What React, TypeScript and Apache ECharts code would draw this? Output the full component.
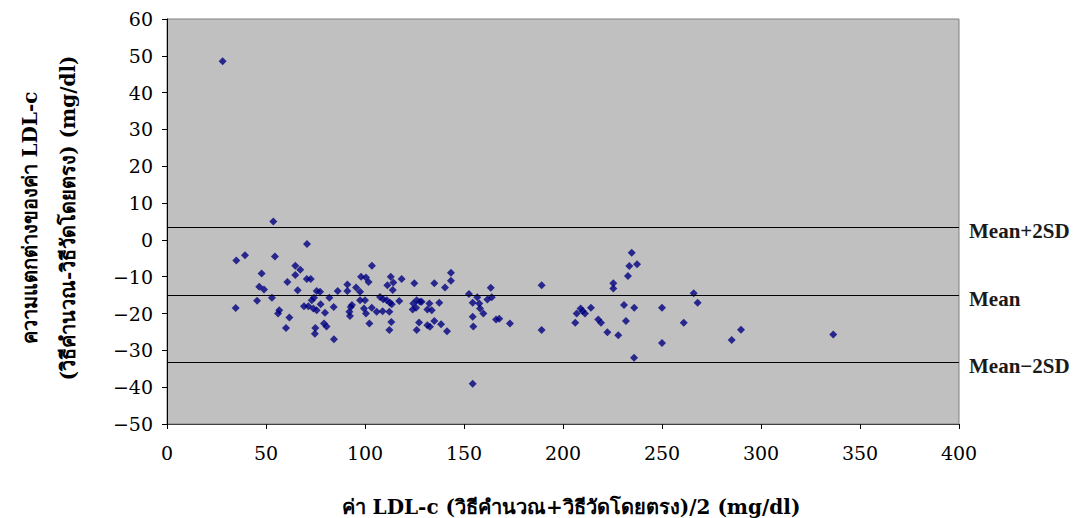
import React, { useEffect, useRef } from "react";
import * as echarts from "echarts";

// [average LDL-c (mg/dl), difference calc - direct (mg/dl)]
const blandAltmanPoints: number[][] = [
  [28.1, 48.5],
  [35.0, -5.6], [39.4, -4.2], [54.5, -4.5], [53.7, 5.0], [70.7, -1.1],
  [47.8, -9.1], [64.8, -7.0], [67.3, -8.1], [64.8, -9.5], [60.8, -11.4], [70.6, -10.6], [72.6, -10.6],
  [46.6, -12.7], [49.0, -13.5], [66.0, -13.7], [53.0, -15.7], [45.5, -16.5], [34.7, -18.5], [56.7, -19.1],
  [56.1, -20.0], [61.8, -21.1], [60.1, -23.9],
  [75.6, -13.9], [77.3, -14.1], [74.2, -15.7], [73.1, -16.4], [71.4, -18.0], [69.2, -18.0], [73.9, -18.6],
  [75.6, -19.1], [77.6, -17.5], [82.0, -15.7], [84.2, -18.2], [79.8, -19.8], [79.3, -22.7], [80.6, -23.5],
  [74.9, -23.9], [74.7, -25.5], [84.3, -27.0],
  [86.2, -13.9], [91.1, -12.1], [91.1, -13.9], [95.5, -12.9], [97.5, -14.1], [97.5, -16.4], [100.0, -16.4],
  [93.4, -17.7], [92.8, -18.2], [99.5, -18.6], [100.5, -20.0], [92.1, -19.5], [92.4, -20.7], [98.0, -10.0],
  [100.5, -10.2], [101.8, -11.4], [103.5, -7.0], [102.2, -22.7],
  [107.6, -15.5], [109.2, -16.1], [111.0, -16.4], [108.9, -19.4], [105.9, -19.5], [103.4, -18.4], [112.3, -19.5],
  [113.0, -10.0], [114.3, -11.6], [111.3, -12.3], [114.0, -13.6], [118.5, -10.6], [112.6, -17.1], [113.5, -17.5],
  [117.3, -16.6], [113.3, -22.3], [112.3, -24.5],
  [124.9, -11.8], [135.0, -11.8], [140.4, -12.9], [143.4, -8.9], [143.4, -11.1],
  [126.1, -16.4], [124.4, -17.3], [127.8, -16.8], [124.1, -18.9], [125.8, -18.4], [128.6, -16.8],
  [132.5, -17.3], [131.5, -18.9], [133.7, -19.1], [137.5, -17.1],
  [127.3, -22.4], [126.1, -24.5], [131.5, -23.2], [132.8, -23.6], [135.0, -22.0], [138.4, -22.9], [141.4, -24.8],
  [152.5, -14.7], [154.4, -17.1], [156.7, -15.6], [157.7, -17.3], [158.1, -18.6], [159.8, -20.0], [154.4, -20.9],
  [154.7, -23.5], [163.5, -13.0], [161.8, -16.2], [164.0, -15.6], [166.2, -21.6], [167.8, -21.4], [173.2, -22.7],
  [154.4, -39.1],
  [189.2, -12.3], [189.2, -24.5],
  [206.2, -22.5], [206.9, -20.0], [208.9, -18.6], [209.9, -19.3], [211.1, -20.0], [214.1, -18.4], [217.8, -21.6],
  [219.2, -22.5], [222.4, -25.1], [227.9, -25.9], [225.4, -11.8], [225.4, -13.2], [230.8, -17.7], [231.8, -22.0],
  [232.8, -9.8], [233.5, -7.1], [234.7, -3.5], [237.4, -6.6], [236.0, -18.4], [235.9, -32.0],
  [250.0, -18.4], [250.0, -28.0], [261.0, -22.5], [266.0, -14.5], [268.0, -17.1], [285.2, -27.2], [289.9, -24.4],
  [336.5, -25.7],
];

const refLineNames = ["Mean+2SD", "Mean", "Mean−2SD"];
const refLineValues = [3.4, -15.0, -33.1];

const xTitle = "ค่า LDL-c (วิธีคำนวณ+วิธีวัดโดยตรง)/2 (mg/dl)";
const yTitleLines = ["ความแตกต่างของค่า LDL-c", "(วิธีคำนวณ-วิธีวัดโดยตรง) (mg/dl)"];

const FONT = "'DejaVu Serif', 'Liberation Serif', serif";
const LABEL_FONT = "'Liberation Serif', 'DejaVu Serif', serif";

export default function App() {
  const ref = useRef<HTMLDivElement>(null);
  useEffect(() => {
    if (!ref.current) return;
    const chart = echarts.init(ref.current, null, { renderer: "svg" });
    chart.setOption({
      animation: false,
      backgroundColor: "#ffffff",
      textStyle: { fontFamily: FONT },
      grid: {
        left: 167,
        top: 19,
        width: 792,
        height: 405,
        show: true,
        backgroundColor: "#C0C0C0",
        borderColor: "#808080",
        borderWidth: 1,
      },
      xAxis: {
        type: "value",
        min: 0,
        max: 400,
        interval: 50,
        axisLine: { show: true, onZero: false, lineStyle: { color: "#404040", width: 1 } },
        axisTick: { show: true, inside: false, length: 5, lineStyle: { color: "#000" } },
        axisLabel: { color: "#000", fontFamily: FONT, fontSize: 19, margin: 19 },
        splitLine: { show: false },
      },
      yAxis: {
        type: "value",
        min: -50,
        max: 60,
        interval: 10,
        axisLine: { show: true, onZero: false, lineStyle: { color: "#000", width: 1 } },
        axisTick: { show: true, inside: false, length: 5, lineStyle: { color: "#000" } },
        axisLabel: {
          color: "#000",
          fontFamily: FONT,
          fontSize: 19,
          margin: 14,
          formatter: (v: number) => String(v).replace("-", "−"),
        },
        splitLine: { show: false },
      },
      series: [
        {
          type: "scatter",
          data: blandAltmanPoints,
          symbol: "diamond",
          symbolSize: 8,
          itemStyle: { color: "#000080" },
          markLine: {
            silent: true,
            symbol: "none",
            lineStyle: { color: "#000", width: 1, type: "solid" },
            label: {
              show: true,
              position: "end",
              distance: 10,
              offset: [0, 4],
              formatter: "{b}",
              color: "#1a1a1a",
              fontFamily: LABEL_FONT,
              fontSize: 21,
              fontWeight: "bold",
            },
            data: refLineValues.map((v, i) => ({ yAxis: v, name: refLineNames[i] })),
          },
        },
      ],
      graphic: [
        {
          type: "text",
          x: 571,
          y: 507,
          style: {
            text: xTitle,
            fill: "#000",
            font: `bold 20px ${FONT}`,
            align: "center",
            verticalAlign: "middle",
          },
        },
        {
          type: "text",
          x: 30,
          y: 218,
          rotation: Math.PI / 2,
          style: {
            text: yTitleLines[0],
            fill: "#000",
            font: `bold 20px ${FONT}`,
            align: "center",
            verticalAlign: "middle",
          },
        },
        {
          type: "text",
          x: 68,
          y: 218,
          rotation: Math.PI / 2,
          style: {
            text: yTitleLines[1],
            fill: "#000",
            font: `bold 20px ${FONT}`,
            align: "center",
            verticalAlign: "middle",
          },
        },
      ],
    });
    return () => chart.dispose();
  }, []);
  return <div ref={ref} style={{ width: 1075, height: 518, position: "absolute", left: 0, top: 0 }} />;
}
